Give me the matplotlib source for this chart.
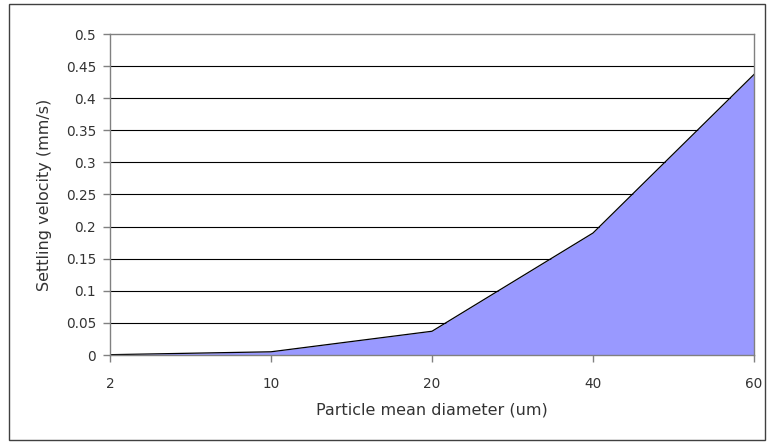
import matplotlib
matplotlib.use("Agg")
import matplotlib.pyplot as plt
from matplotlib.patches import Rectangle
import numpy as np

plt.rcParams['font.family'] = ['DejaVu Sans']

# Particle diameters (um) and their settling velocities (mm/s)
diameters = ['2', '10', '20', '40', '60']
velocity = [0.0005, 0.005, 0.037, 0.19, 0.437]
y_ticks = [0, 0.05, 0.1, 0.15, 0.2, 0.25, 0.3, 0.35, 0.4, 0.45, 0.5]
y_tick_labels = ['0', '0.05', '0.1', '0.15', '0.2', '0.25', '0.3', '0.35', '0.4', '0.45', '0.5']

fig = plt.figure(figsize=(7.68, 4.44), dpi=100)
fig.patch.set_facecolor('white')

# outer chart frame
fig.patches.append(Rectangle((9 / 768, 4 / 444), 756 / 768, 436 / 444,
                             transform=fig.transFigure, fill=False,
                             edgecolor='#404040', linewidth=1.0))

ax = fig.add_axes([110 / 768, 1 - 355 / 444, 644 / 768, 321 / 444])

x = np.arange(len(diameters))
ax.fill_between(x, velocity, 0, color='#9999ff', linewidth=0, zorder=2)
ax.plot(x, velocity, color='black', linewidth=0.9, zorder=3)

ax.set_xlim(0, len(diameters) - 1)
ax.set_ylim(0, 0.5)
ax.set_xticks(x)
ax.set_xticklabels(diameters)
ax.set_yticks(y_ticks)
ax.set_yticklabels(y_tick_labels)

for v in y_ticks[1:-1]:
    ax.axhline(v, color='black', linewidth=0.8, zorder=1)

for side in ['left', 'bottom', 'top', 'right']:
    ax.spines[side].set_color('#808080')
    ax.spines[side].set_linewidth(1.0)
    ax.spines[side].set_zorder(4)

ax.tick_params(axis='both', direction='out', length=5, width=1.0,
               color='#808080', labelsize=9.8, labelcolor='#333333')
ax.tick_params(axis='x', pad=11)
ax.tick_params(axis='y', pad=5)

ax.set_xlabel('Particle mean diameter (um)', fontsize=11.5, color='#333333', labelpad=8)
ax.set_ylabel('Settling velocity (mm/s)', fontsize=11.5, color='#333333', labelpad=10)

fig.savefig('out.png', dpi=100)
